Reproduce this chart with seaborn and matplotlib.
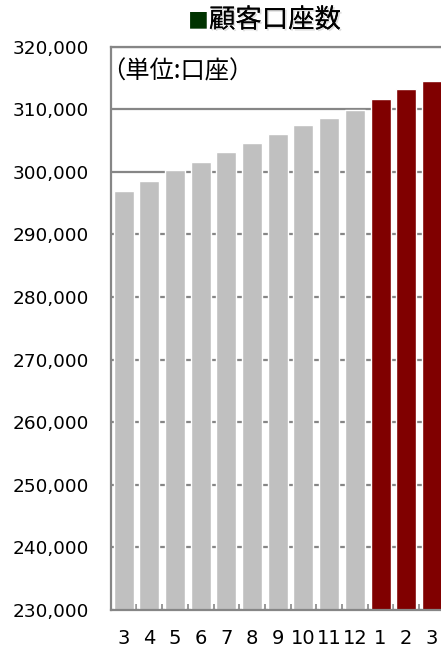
import matplotlib
matplotlib.use("Agg")
import matplotlib.pyplot as plt
import matplotlib.patheffects as pe
from matplotlib.ticker import FuncFormatter, MultipleLocator, FixedLocator
import seaborn as sns
import pandas as pd

# Monthly customer account counts
months = ["3", "4", "5", "6", "7", "8", "9", "10", "11", "12", "1", "2", "3"]
period = ["prev"] * 10 + ["curr"] * 3
accounts = [296950, 298500, 300300, 301600, 303150, 304550, 306050,
            307500, 308650, 309900, 311700, 313250, 314550]

title_mark = "■"
title_text = "顧客口座数"
unit_text = "（単位:口座）"

colors = {"prev": "#C0C0C0", "curr": "#800000"}
grid_gray = "#868686"

df = pd.DataFrame({"pos": range(len(months)), "month": months,
                   "period": period, "accounts": accounts})

sns.set_theme(style="white")
plt.rcParams["font.family"] = ["DejaVu Sans", "Noto Sans CJK JP"]

W, H = 441, 648
fig = plt.figure(figsize=(W / 100, H / 100), dpi=100)
left, right, bottom, top = 110.7, 444.8, 610.0, 46.7
ax = fig.add_axes([left / W, (H - bottom) / H, (right - left) / W, (bottom - top) / H])

sns.barplot(data=df, x="pos", y="accounts", hue="period", palette=colors,
            dodge=False, width=0.78, legend=False, saturation=1, ax=ax)

ax.set_xlim(-0.5, len(months) - 0.5)
ax.set_ylim(230000, 320000)
ax.yaxis.set_major_locator(MultipleLocator(10000))
ax.yaxis.set_major_formatter(FuncFormatter(lambda v, p: f"{int(v):,}"))
ax.set_xticks(range(len(months)))
ax.set_xticklabels(months)
ax.xaxis.set_minor_locator(FixedLocator([i - 0.5 for i in range(len(months) + 1)]))
ax.set_xlabel("")
ax.set_ylabel("")

ax.set_axisbelow(True)
ax.yaxis.grid(True, color=grid_gray, linewidth=1.6)
ax.xaxis.grid(False)
for side in ["left", "bottom", "top"]:
    ax.spines[side].set_visible(True)
    ax.spines[side].set_color(grid_gray)
    ax.spines[side].set_linewidth(1.6)
ax.spines["right"].set_visible(False)

ax.tick_params(axis="y", which="major", length=0, pad=15.5, labelsize=13.3, labelcolor="black")
ax.tick_params(axis="x", which="major", length=0, pad=13.5, labelsize=14, labelcolor="black")
ax.tick_params(axis="x", which="minor", direction="in", length=4, width=1.2,
               color=grid_gray, bottom=True)

cjk = ["Noto Sans CJK JP", "DejaVu Sans"]
fig.text(101 / W, 1 - 71 / H, unit_text, ha="left", va="center",
         fontsize=17.5, family=cjk, color="black")

shadow = [pe.withSimplePatchShadow(offset=(1.2, -1.2), shadow_rgbFace="#b8b8b8", alpha=0.45),
          pe.Normal()]
fig.text(209 / W, 1 - 21 / H, title_mark, ha="right", va="center", fontsize=15,
         family=cjk, color="#003300")
fig.text(209 / W, 1 - 20 / H, title_text, ha="left", va="center", fontsize=19,
         family=cjk, color="black", path_effects=shadow)

fig.savefig("out.png", dpi=100)
